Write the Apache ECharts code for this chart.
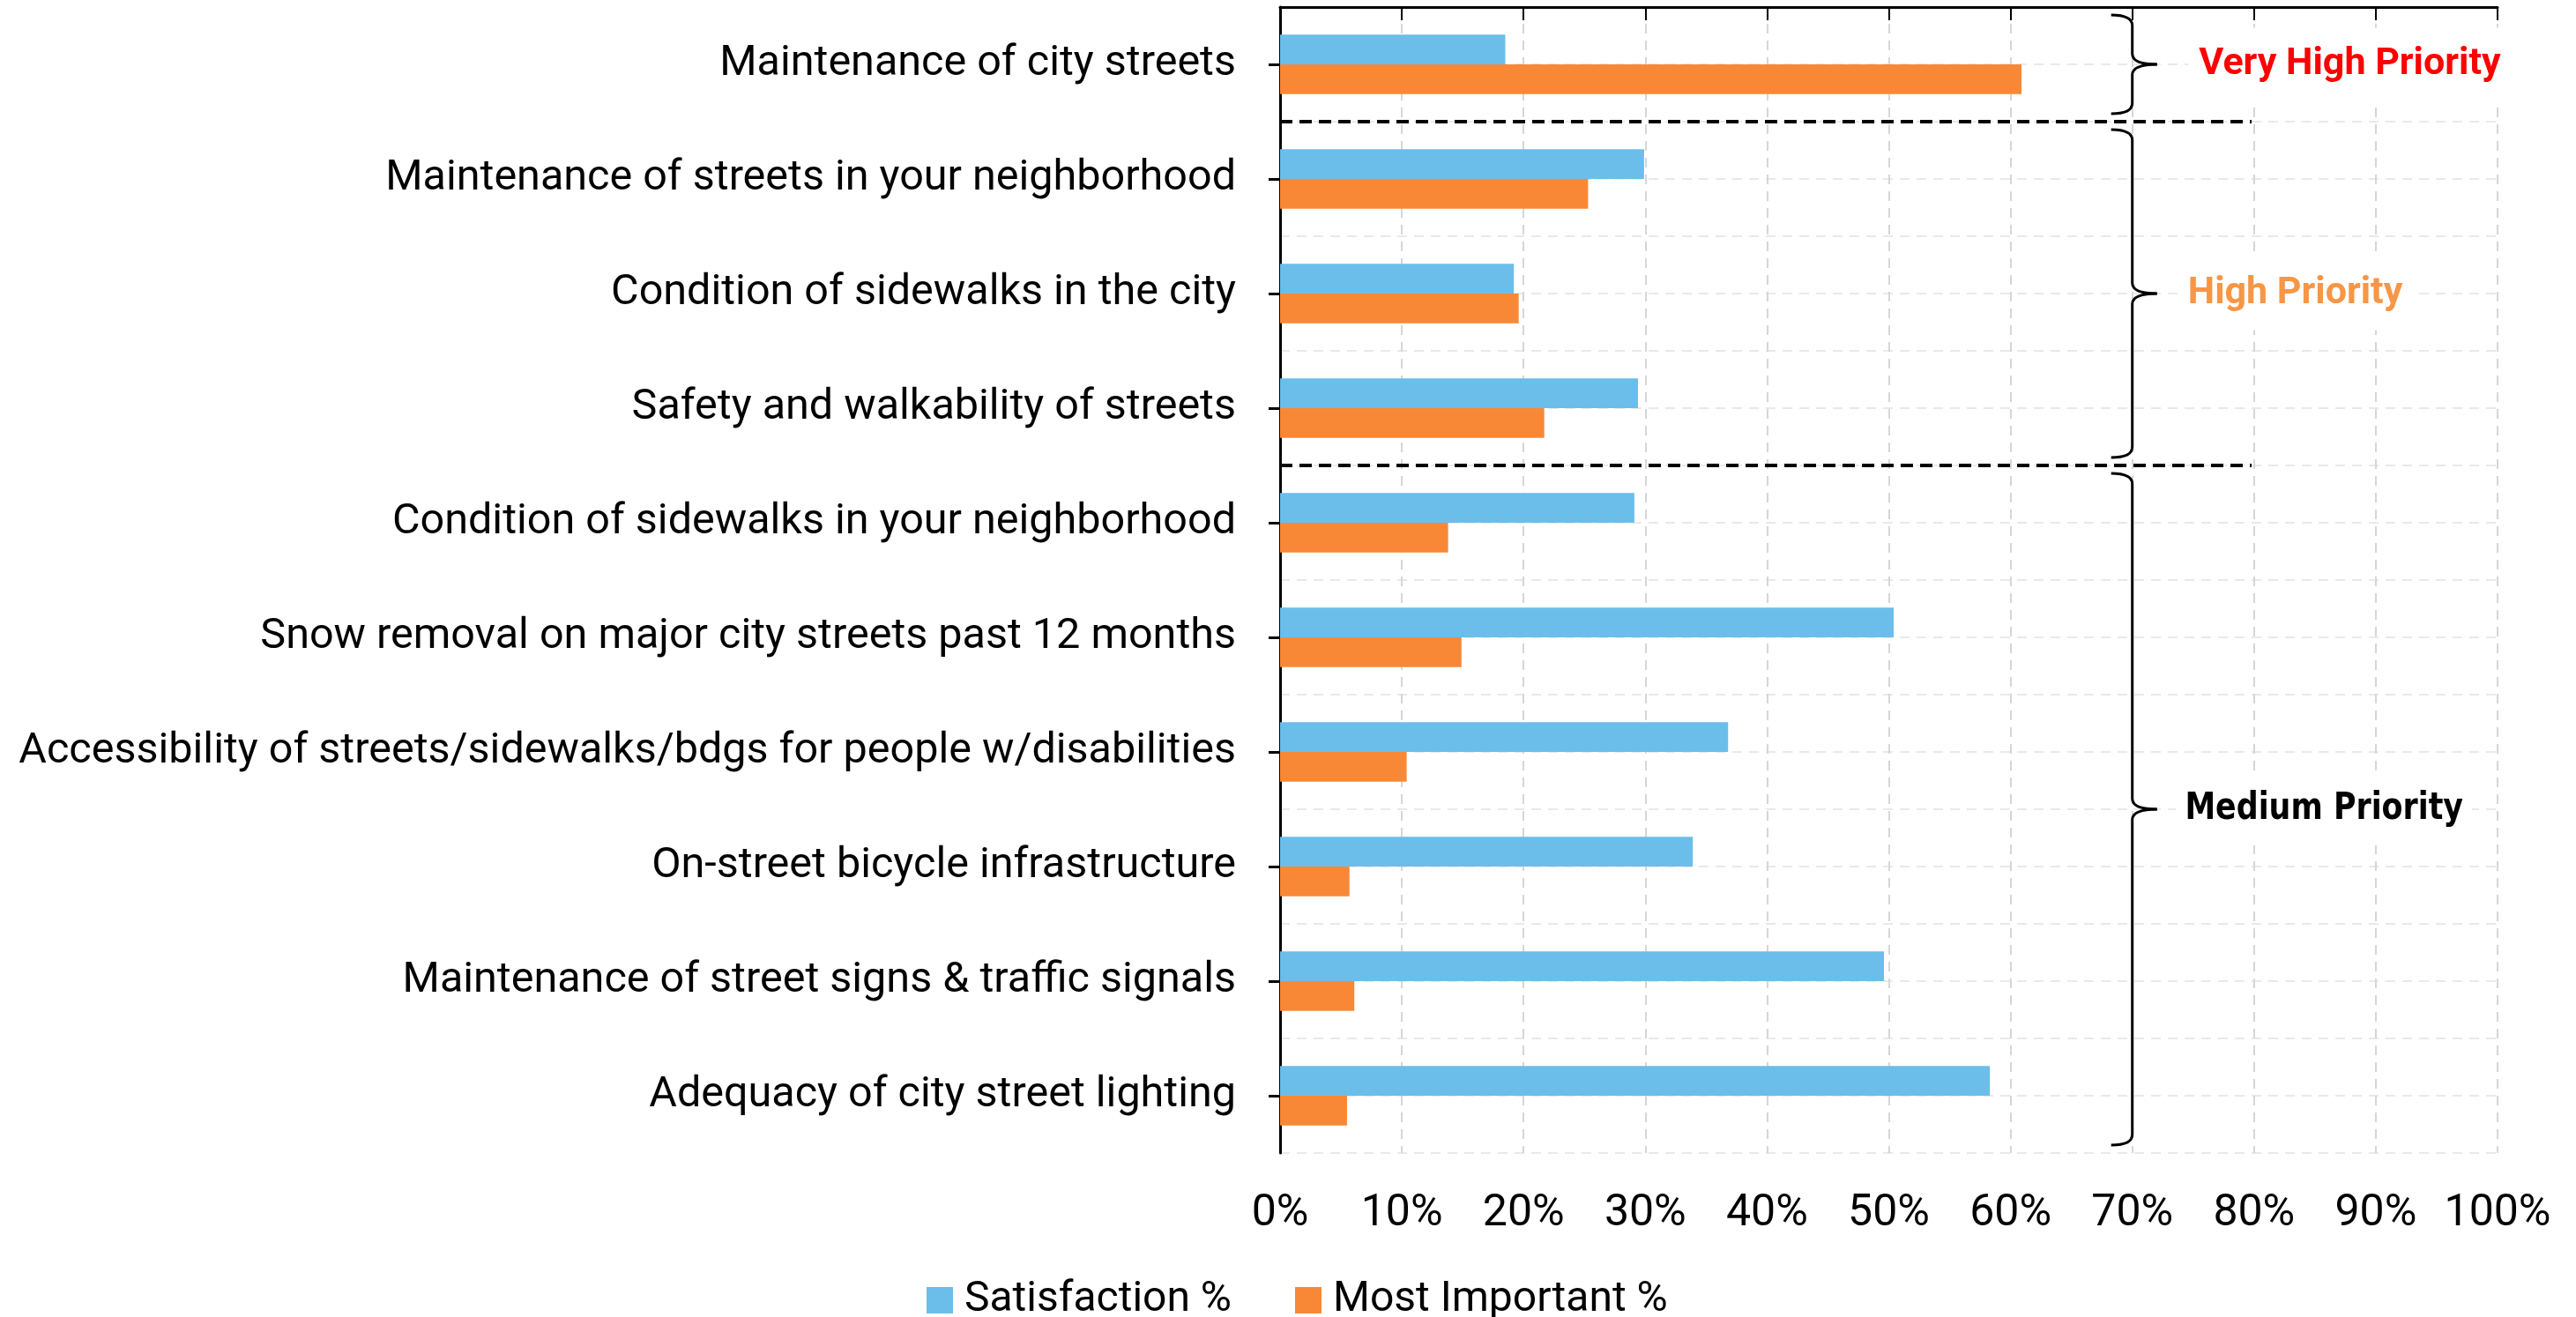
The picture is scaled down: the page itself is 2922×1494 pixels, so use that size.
<!DOCTYPE html>
<html>
<head>
<meta charset="utf-8">
<title>Streets priorities</title>
<script src="https://cdn.jsdelivr.net/npm/echarts@6/dist/echarts.min.js"></script>
<style>
  html, body { margin: 0; padding: 0; background: #fff; }
  #chart { width: 2922px; height: 1494px; }
</style>
</head>
<body>
<div id="chart"></div>
<script>
// categories, top to bottom
const categories = [
  'Maintenance of city streets',
  'Maintenance of streets in your neighborhood',
  'Condition of sidewalks in the city',
  'Safety and walkability of streets',
  'Condition of sidewalks in your neighborhood',
  'Snow removal on major city streets past 12 months',
  'Accessibility of streets/sidewalks/bdgs for people w/disabilities',
  'On-street bicycle infrastructure',
  'Maintenance of street signs & traffic signals',
  'Adequacy of city street lighting'
];
const satisfaction = [18.5, 29.9, 19.2, 29.4, 29.1, 50.4, 36.8, 33.9, 49.6, 58.3];
const mostImportant = [60.9, 25.3, 19.6, 21.7, 13.8, 14.9, 10.4, 5.7, 6.1, 5.5];

// priority groups (row ranges, inclusive)
const groupLabels = ['Very High Priority', 'High Priority', 'Medium Priority'];
const groupFirst = [0, 1, 4];
const groupLast = [0, 3, 9];
const groupColors = ['#FF0000', '#F79646', '#000000'];

// where the group labels start, in axis %
const labelStart = [74.6, 73.7, 73.6];

const FONT = "Roboto, 'Noto Sans', sans-serif";

const chart = echarts.init(document.getElementById('chart'));

const option = {
  animation: false,
  backgroundColor: '#fff',
  grid: { left: 1452, right: 89, top: 8, bottom: 186, outerBoundsMode: 'none' },
  legend: {
    left: 1046,
    top: 1444,
    itemWidth: 30,
    itemHeight: 30,
    itemGap: 72,
    icon: 'rect',
    textStyle: { fontFamily: FONT, fontSize: 48, color: '#000', lineHeight: 52, padding: [0, 0, 0, 8] },
    data: ['Satisfaction %', 'Most Important %']
  },
  xAxis: {
    type: 'value',
    min: 0,
    max: 100,
    interval: 10,
    axisLine: { show: true, lineStyle: { color: '#000', width: 3 } },
    axisTick: { show: true, length: 15, lineStyle: { color: '#000', width: 2 } },
    axisLabel: {
      formatter: '{value}%',
      fontFamily: FONT,
      fontSize: 50,
      color: '#000',
      margin: 44
    },
    splitLine: {
      show: true,
      lineStyle: { color: '#D6D6D6', width: 2, type: [11, 8] }
    }
  },
  yAxis: [
    {
      type: 'category',
      inverse: true,
      data: categories,
      axisLine: { show: true, lineStyle: { color: '#000', width: 3 } },
      axisTick: { show: true, alignWithLabel: true, length: 13, lineStyle: { color: '#000', width: 3 } },
      axisLabel: { fontFamily: FONT, fontSize: 48.5, color: '#000', margin: 50 },
      splitLine: { show: false }
    },
    {
      // only draws the light half-row grid lines
      type: 'value',
      inverse: true,
      min: 0,
      max: 20,
      interval: 1,
      axisLine: { show: false },
      axisTick: { show: false },
      axisLabel: { show: false },
      splitLine: { show: true, lineStyle: { color: '#E9E9E9', width: 2, type: [11, 8] } }
    }
  ],
  series: [
    {
      name: 'Satisfaction %',
      type: 'bar',
      data: satisfaction,
      barGap: '0%',
      barCategoryGap: '48%',
      itemStyle: { color: '#6BBEEA' }
    },
    {
      name: 'Most Important %',
      type: 'bar',
      data: mostImportant,
      barGap: '0%',
      barCategoryGap: '48%',
      itemStyle: { color: '#F98836' }
    }
  ]
};

chart.setOption(option);

// annotations: group separators, braces and labels, placed through the axes
const xPix = v => chart.convertToPixel({ xAxisIndex: 0 }, v);
const yPix = v => chart.convertToPixel({ yAxisIndex: 1 }, v); // 2 units per row

const graphics = [];
const braceStyle = { fill: null, stroke: '#000', lineWidth: 3 };

// dashed separators between the groups
for (let g = 1; g < groupFirst.length; g++) {
  const y = yPix(groupFirst[g] * 2);
  graphics.push({
    type: 'line',
    z: 10,
    shape: { x1: xPix(0), y1: y, x2: xPix(79.8), y2: y },
    style: { stroke: '#000', lineWidth: 4, lineDash: [14, 8] }
  });
}

groupLabels.forEach((label, g) => {
  const top = yPix(groupFirst[g] * 2) + 9;
  const bot = yPix(groupLast[g] * 2 + 2) - 9;
  const mid = (top + bot) / 2;
  const x = xPix(70);
  const hook = 24, tip = 28, r = 12;
  // right curly brace, built from curves and straight pieces
  const pieces = [
    { x1: x - hook, y1: top, cpx1: x, cpy1: top, x2: x, y2: top + r },
    { x1: x, y1: mid - r, cpx1: x, cpy1: mid, x2: x + tip, y2: mid },
    { x1: x + tip, y1: mid, cpx1: x, cpy1: mid, x2: x, y2: mid + r },
    { x1: x, y1: bot - r, cpx1: x, cpy1: bot, x2: x - hook, y2: bot }
  ];
  pieces.forEach(shape => {
    graphics.push({ type: 'bezierCurve', z: 10, shape: shape, style: braceStyle });
  });
  graphics.push({ type: 'line', z: 10, shape: { x1: x, y1: top + r, x2: x, y2: mid - r }, style: braceStyle });
  graphics.push({ type: 'line', z: 10, shape: { x1: x, y1: mid + r, x2: x, y2: bot - r }, style: braceStyle });

  const medium = g === 2;
  graphics.push({
    type: 'text',
    z: 11,
    x: xPix(labelStart[g]),
    y: mid,
    scaleX: medium ? 0.83 : 1,
    style: {
      text: label,
      fill: groupColors[g],
      font: medium
        ? "bold 42px 'DejaVu Sans', sans-serif"
        : "bold 43px Roboto, sans-serif",
      verticalAlign: 'middle',
      backgroundColor: '#fff',
      padding: [20, 12]
    }
  });
});

chart.setOption({ graphic: { elements: graphics } });

window.addEventListener('resize', () => chart.resize());
</script>
</body>
</html>
